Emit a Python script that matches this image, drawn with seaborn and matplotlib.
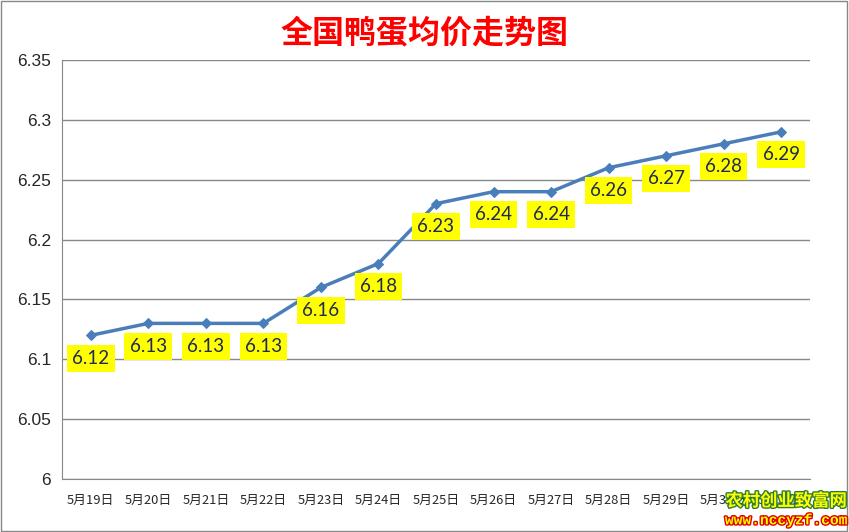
import numpy as np
import pandas as pd
import matplotlib
matplotlib.use("Agg")
import matplotlib.pyplot as plt
import matplotlib.patheffects as pe
from matplotlib.ticker import FixedLocator, NullFormatter
import seaborn as sns

dates = ["5月19日", "5月20日", "5月21日", "5月22日", "5月23日", "5月24日", "5月25日",
         "5月26日", "5月27日", "5月28日", "5月29日", "5月30日", "5月31日"]
prices = [6.12, 6.13, 6.13, 6.13, 6.16, 6.18, 6.23, 6.24, 6.24, 6.26, 6.27, 6.28, 6.29]
yticks = [6, 6.05, 6.1, 6.15, 6.2, 6.25, 6.3, 6.35]

sns.set_style("white")
plt.rcParams["font.family"] = ["Lato", "Noto Sans CJK SC", "DejaVu Sans"]

df = pd.DataFrame({"date": dates, "price": prices})
df["x"] = np.arange(len(df))

fig = plt.figure(figsize=(8.49, 5.32), dpi=100)
ax = fig.add_axes([62 / 849, 53 / 532, 748 / 849, 419 / 532])

sns.lineplot(data=df, x="x", y="price", ax=ax, color="#4A7EBB", linewidth=2.5,
             marker="D", markersize=5.5, markeredgecolor="#4A7EBB")

ax.set_xlim(-0.5, len(dates) - 0.5)
ax.set_ylim(6, 6.35)
ax.set_yticks(yticks)
ax.set_yticklabels([f"{v:g}" for v in yticks], fontsize=12.5,
                   family=["Liberation Sans Narrow", "Liberation Sans"])
ax.yaxis.grid(True, color="#888888", linewidth=1)
ax.set_axisbelow(True)
ax.tick_params(axis="y", length=0, pad=8)

ax.set_xticks(df["x"])
ax.set_xticklabels(dates, fontsize=9.3, family=["Noto Sans CJK SC"])
ax.tick_params(axis="x", length=0, pad=11)
ax.xaxis.set_minor_locator(FixedLocator(np.arange(-0.5, len(dates), 1.0)))
ax.xaxis.set_minor_formatter(NullFormatter())
ax.tick_params(axis="x", which="minor", length=5, color="#888888", width=1)

for s in ["top", "right"]:
    ax.spines[s].set_visible(False)
ax.spines["left"].set_color("#888888")
ax.spines["bottom"].set_color("#888888")
ax.set_xlabel("")
ax.set_ylabel("")

for xi, yi in zip(df["x"], df["price"]):
    ax.annotate(f"{yi:.2f}", (xi, yi), xytext=(0, -16.5), textcoords="offset points",
                ha="center", va="center", fontsize=13.5, color="#1F2A55",
                bbox=dict(boxstyle="square,pad=0.28", facecolor="#FFFF00", edgecolor="none"))

fig.text(0.5, 0.938, "全国鸭蛋均价走势图", ha="center", va="center", fontsize=23,
         fontweight="bold", color="#FF0000", family=["Noto Sans CJK SC"])

# watermark
fig.text(0.926, 0.058, "农村创业致富网", ha="center", va="center", fontsize=12.5,
         fontweight="bold", color="#FFFF00", family=["Noto Sans CJK SC"],
         path_effects=[pe.withStroke(linewidth=2, foreground="#2E7D32")])
fig.text(0.926, 0.022, "www.nccyzf.com", ha="center", va="center", fontsize=10.5,
         fontweight="bold", color="#FFFF00", family=["Liberation Mono"],
         path_effects=[pe.withStroke(linewidth=2, foreground="#E00000")])

fig.patches.append(plt.Rectangle((0.001, 0.001), 0.997, 0.997, transform=fig.transFigure,
                                 fill=False, edgecolor="#888888", linewidth=1))

fig.savefig("out.png", dpi=100)
